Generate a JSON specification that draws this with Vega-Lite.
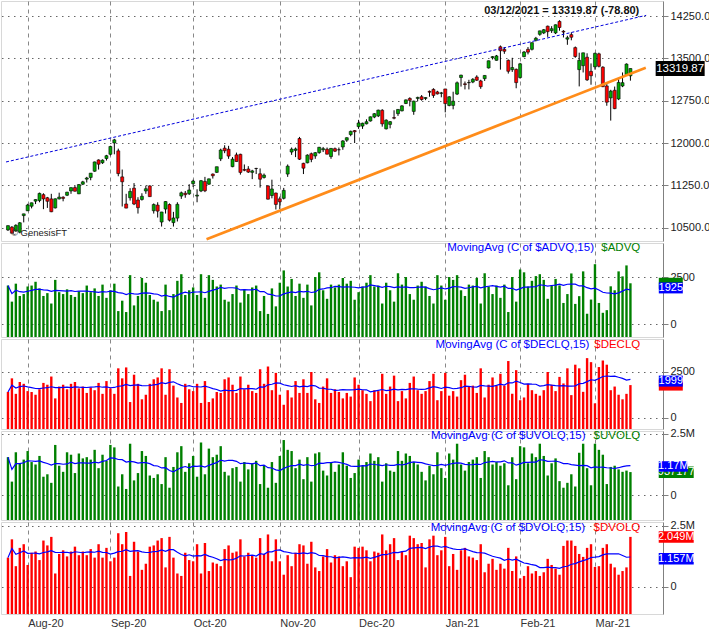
{
"$schema":"https://vega.github.io/schema/vega-lite/v6.json",
"padding":0,
"background":"white",
"spacing":2,
"bounds":"flush",
"config":{"view":{"stroke":"#d8d8d8"},"axis":{"labelFont":"Liberation Sans","labelFontSize":11,"labelColor":"#222222","domainColor":"#808080","tickColor":"#808080"}},
"datasets":{"d":[
{"i":0,"date":"2020-07-27","o":10460,"h":10540,"l":10442,"c":10536,"adv":2050,"dec":1400,"uvol":1.55,"dvol":1.20},
{"i":1,"date":"2020-07-28","o":10510,"h":10528,"l":10400,"c":10402,"adv":1200,"dec":2150,"uvol":0.55,"dvol":1.95},
{"i":2,"date":"2020-07-29","o":10440,"h":10560,"l":10430,"c":10542,"adv":2150,"dec":1300,"uvol":1.75,"dvol":0.85},
{"i":3,"date":"2020-07-30","o":10420,"h":10600,"l":10400,"c":10587,"adv":1500,"dec":1950,"uvol":1.30,"dvol":1.60},
{"i":4,"date":"2020-07-31","o":10714,"h":10747,"l":10594,"c":10745,"adv":1600,"dec":1850,"uvol":1.45,"dvol":1.75},
{"i":5,"date":"2020-08-03","o":10799,"h":10923,"l":10797,"c":10902,"adv":2000,"dec":1450,"uvol":1.80,"dvol":0.90},
{"i":6,"date":"2020-08-04","o":10880,"h":10944,"l":10842,"c":10941,"adv":2050,"dec":1400,"uvol":1.35,"dvol":1.40},
{"i":7,"date":"2020-08-05","o":10970,"h":11002,"l":10918,"c":10998,"adv":2250,"dec":1250,"uvol":1.25,"dvol":1.45},
{"i":8,"date":"2020-08-06","o":10980,"h":11121,"l":10950,"c":11108,"adv":1900,"dec":1550,"uvol":1.60,"dvol":1.10},
{"i":9,"date":"2020-08-07","o":11085,"h":11110,"l":10828,"c":11010,"adv":1500,"dec":1900,"uvol":0.75,"dvol":1.90},
{"i":10,"date":"2020-08-10","o":11030,"h":11045,"l":10850,"c":10968,"adv":1650,"dec":1800,"uvol":0.85,"dvol":1.70},
{"i":11,"date":"2020-08-11","o":11010,"h":11100,"l":10775,"c":10782,"adv":1100,"dec":2250,"uvol":0.50,"dvol":2.05},
{"i":12,"date":"2020-08-12","o":10850,"h":11018,"l":10840,"c":11012,"adv":2350,"dec":1050,"uvol":2.05,"dvol":0.55},
{"i":13,"date":"2020-08-13","o":11010,"h":11120,"l":11000,"c":11042,"adv":1700,"dec":1700,"uvol":1.20,"dvol":1.35},
{"i":14,"date":"2020-08-14","o":11040,"h":11056,"l":10967,"c":11019,"adv":1600,"dec":1800,"uvol":0.95,"dvol":1.50},
{"i":15,"date":"2020-08-17","o":11075,"h":11135,"l":11060,"c":11129,"adv":1850,"dec":1550,"uvol":1.75,"dvol":1.25},
{"i":16,"date":"2020-08-18","o":11150,"h":11212,"l":11100,"c":11210,"adv":1550,"dec":1850,"uvol":1.65,"dvol":1.45},
{"i":17,"date":"2020-08-19","o":11210,"h":11240,"l":11140,"c":11146,"adv":1450,"dec":1950,"uvol":0.90,"dvol":1.65},
{"i":18,"date":"2020-08-20","o":11100,"h":11270,"l":11095,"c":11264,"adv":1750,"dec":1600,"uvol":1.70,"dvol":1.30},
{"i":19,"date":"2020-08-21","o":11270,"h":11330,"l":11255,"c":11312,"adv":1650,"dec":1700,"uvol":1.50,"dvol":1.45},
{"i":20,"date":"2020-08-24","o":11360,"h":11400,"l":11300,"c":11380,"adv":2050,"dec":1350,"uvol":1.55,"dvol":1.30},
{"i":21,"date":"2020-08-25","o":11390,"h":11466,"l":11340,"c":11466,"adv":1700,"dec":1650,"uvol":1.45,"dvol":1.55},
{"i":22,"date":"2020-08-26","o":11500,"h":11670,"l":11490,"c":11665,"adv":1900,"dec":1500,"uvol":1.85,"dvol":1.20},
{"i":23,"date":"2020-08-27","o":11700,"h":11710,"l":11530,"c":11625,"adv":1500,"dec":1900,"uvol":1.10,"dvol":1.75},
{"i":24,"date":"2020-08-28","o":11650,"h":11710,"l":11630,"c":11696,"adv":2100,"dec":1300,"uvol":1.65,"dvol":1.20},
{"i":25,"date":"2020-08-31","o":11725,"h":11790,"l":11690,"c":11775,"adv":1400,"dec":2000,"uvol":1.40,"dvol":1.60},
{"i":26,"date":"2020-09-01","o":11800,"h":11945,"l":11780,"c":11939,"adv":1800,"dec":1600,"uvol":2.05,"dvol":1.05},
{"i":27,"date":"2020-09-02","o":12000,"h":12074,"l":11800,"c":12056,"adv":2150,"dec":1300,"uvol":1.95,"dvol":1.20},
{"i":28,"date":"2020-09-03","o":11861,"h":11900,"l":11411,"c":11458,"adv":700,"dec":2700,"uvol":0.35,"dvol":2.20},
{"i":29,"date":"2020-09-04","o":11400,"h":11530,"l":10875,"c":11313,"adv":1250,"dec":2150,"uvol":0.85,"dvol":1.75},
{"i":30,"date":"2020-09-08","o":10920,"h":11100,"l":10845,"c":10847,"adv":650,"dec":2750,"uvol":0.25,"dvol":2.25},
{"i":31,"date":"2020-09-09","o":11030,"h":11200,"l":10980,"c":11142,"adv":2600,"dec":850,"uvol":2.10,"dvol":0.45},
{"i":32,"date":"2020-09-10","o":11200,"h":11290,"l":10900,"c":10919,"adv":1000,"dec":2350,"uvol":0.60,"dvol":1.85},
{"i":33,"date":"2020-09-11","o":10990,"h":11040,"l":10750,"c":10854,"adv":1500,"dec":1850,"uvol":0.90,"dvol":1.45},
{"i":34,"date":"2020-09-14","o":11000,"h":11110,"l":10980,"c":11056,"adv":2450,"dec":1000,"uvol":1.80,"dvol":0.70},
{"i":35,"date":"2020-09-15","o":11150,"h":11245,"l":11100,"c":11190,"adv":2200,"dec":1250,"uvol":1.60,"dvol":0.95},
{"i":36,"date":"2020-09-16","o":11240,"h":11250,"l":11050,"c":11050,"adv":1550,"dec":1850,"uvol":0.80,"dvol":1.65},
{"i":37,"date":"2020-09-17","o":10800,"h":10930,"l":10750,"c":10910,"adv":1300,"dec":2100,"uvol":0.70,"dvol":1.70},
{"i":38,"date":"2020-09-18","o":10900,"h":10950,"l":10680,"c":10793,"adv":1200,"dec":2200,"uvol":0.85,"dvol":1.90},
{"i":39,"date":"2020-09-21","o":10600,"h":10780,"l":10520,"c":10778,"adv":700,"dec":2700,"uvol":0.45,"dvol":2.00},
{"i":40,"date":"2020-09-22","o":10830,"h":10970,"l":10750,"c":10963,"adv":2100,"dec":1250,"uvol":1.55,"dvol":0.80},
{"i":41,"date":"2020-09-23","o":10910,"h":10930,"l":10610,"c":10633,"adv":750,"dec":2650,"uvol":0.30,"dvol":2.05},
{"i":42,"date":"2020-09-24","o":10590,"h":10780,"l":10520,"c":10672,"adv":1600,"dec":1750,"uvol":1.15,"dvol":1.20},
{"i":43,"date":"2020-09-25","o":10670,"h":10950,"l":10610,"c":10914,"adv":2300,"dec":1100,"uvol":1.75,"dvol":0.55},
{"i":44,"date":"2020-09-28","o":11060,"h":11140,"l":11010,"c":11118,"adv":2650,"dec":800,"uvol":2.00,"dvol":0.45},
{"i":45,"date":"2020-09-29","o":11110,"h":11150,"l":11030,"c":11085,"adv":1550,"dec":1850,"uvol":0.95,"dvol":1.40},
{"i":46,"date":"2020-09-30","o":11100,"h":11270,"l":11080,"c":11168,"adv":1800,"dec":1550,"uvol":1.30,"dvol":1.10},
{"i":47,"date":"2020-10-01","o":11280,"h":11350,"l":11220,"c":11326,"adv":1950,"dec":1450,"uvol":1.60,"dvol":1.05},
{"i":48,"date":"2020-10-02","o":11060,"h":11180,"l":10950,"c":11076,"adv":1550,"dec":1850,"uvol":0.75,"dvol":1.75},
{"i":49,"date":"2020-10-05","o":11150,"h":11345,"l":11130,"c":11332,"adv":2650,"dec":800,"uvol":2.15,"dvol":0.55},
{"i":50,"date":"2020-10-06","o":11320,"h":11400,"l":11130,"c":11154,"adv":1400,"dec":2000,"uvol":0.85,"dvol":1.80},
{"i":51,"date":"2020-10-07","o":11270,"h":11370,"l":11260,"c":11365,"adv":2600,"dec":850,"uvol":1.90,"dvol":0.65},
{"i":52,"date":"2020-10-08","o":11450,"h":11460,"l":11370,"c":11420,"adv":2350,"dec":1050,"uvol":1.55,"dvol":1.00},
{"i":53,"date":"2020-10-09","o":11480,"h":11580,"l":11470,"c":11580,"adv":2000,"dec":1400,"uvol":1.65,"dvol":0.95},
{"i":54,"date":"2020-10-12","o":11720,"h":11900,"l":11680,"c":11876,"adv":2100,"dec":1350,"uvol":2.00,"dvol":0.85},
{"i":55,"date":"2020-10-13","o":11909,"h":11960,"l":11820,"c":11863,"adv":1300,"dec":2100,"uvol":0.95,"dvol":1.55},
{"i":56,"date":"2020-10-14","o":11890,"h":11950,"l":11720,"c":11768,"adv":1200,"dec":2200,"uvol":0.80,"dvol":1.70},
{"i":57,"date":"2020-10-15","o":11581,"h":11751,"l":11571,"c":11714,"adv":1600,"dec":1800,"uvol":1.10,"dvol":1.40},
{"i":58,"date":"2020-10-16","o":11790,"h":11830,"l":11670,"c":11672,"adv":2050,"dec":1350,"uvol":1.15,"dvol":1.45},
{"i":59,"date":"2020-10-19","o":11800,"h":11810,"l":11440,"c":11479,"adv":1150,"dec":2250,"uvol":0.55,"dvol":1.95},
{"i":60,"date":"2020-10-20","o":11530,"h":11620,"l":11500,"c":11517,"adv":1850,"dec":1550,"uvol":1.35,"dvol":1.25},
{"i":61,"date":"2020-10-21","o":11540,"h":11590,"l":11470,"c":11485,"adv":1600,"dec":1800,"uvol":1.05,"dvol":1.40},
{"i":62,"date":"2020-10-22","o":11480,"h":11525,"l":11360,"c":11506,"adv":1950,"dec":1450,"uvol":1.30,"dvol":1.30},
{"i":63,"date":"2020-10-23","o":11550,"h":11560,"l":11450,"c":11548,"adv":2050,"dec":1350,"uvol":1.40,"dvol":1.20},
{"i":64,"date":"2020-10-26","o":11455,"h":11550,"l":11210,"c":11359,"adv":700,"dec":2650,"uvol":0.45,"dvol":2.00},
{"i":65,"date":"2020-10-27","o":11390,"h":11460,"l":11370,"c":11431,"adv":1500,"dec":1850,"uvol":1.20,"dvol":1.35},
{"i":66,"date":"2020-10-28","o":11240,"h":11250,"l":11000,"c":11005,"adv":550,"dec":2800,"uvol":0.30,"dvol":2.15},
{"i":67,"date":"2020-10-29","o":11070,"h":11350,"l":11020,"c":11186,"adv":1900,"dec":1500,"uvol":1.35,"dvol":1.05},
{"i":68,"date":"2020-10-30","o":11114,"h":11120,"l":10822,"c":10912,"adv":950,"dec":2450,"uvol":0.50,"dvol":1.95},
{"i":69,"date":"2020-11-02","o":11011,"h":11050,"l":10830,"c":10958,"adv":2200,"dec":1250,"uvol":1.60,"dvol":1.05},
{"i":70,"date":"2020-11-03","o":11020,"h":11205,"l":11000,"c":11161,"adv":2850,"dec":700,"uvol":2.25,"dvol":0.50},
{"i":71,"date":"2020-11-04","o":11450,"h":11620,"l":11400,"c":11590,"adv":2000,"dec":1500,"uvol":1.85,"dvol":1.30},
{"i":72,"date":"2020-11-05","o":11840,"h":11920,"l":11790,"c":11891,"adv":2400,"dec":1100,"uvol":1.80,"dvol":0.85},
{"i":73,"date":"2020-11-06","o":11870,"h":11920,"l":11750,"c":11895,"adv":1500,"dec":2000,"uvol":1.10,"dvol":1.40},
{"i":74,"date":"2020-11-09","o":12080,"h":12108,"l":11700,"c":11713,"adv":2150,"dec":1350,"uvol":1.45,"dvol":1.75},
{"i":75,"date":"2020-11-10","o":11640,"h":11650,"l":11450,"c":11554,"adv":1400,"dec":2100,"uvol":0.65,"dvol":1.70},
{"i":76,"date":"2020-11-11","o":11650,"h":11800,"l":11640,"c":11786,"adv":2100,"dec":1350,"uvol":1.55,"dvol":0.95},
{"i":77,"date":"2020-11-12","o":11810,"h":11830,"l":11660,"c":11710,"adv":1000,"dec":2500,"uvol":0.55,"dvol":1.85},
{"i":78,"date":"2020-11-13","o":11770,"h":11840,"l":11720,"c":11829,"adv":2500,"dec":1000,"uvol":1.70,"dvol":0.80},
{"i":79,"date":"2020-11-16","o":11830,"h":11930,"l":11810,"c":11925,"adv":2750,"dec":800,"uvol":1.75,"dvol":0.65},
{"i":80,"date":"2020-11-17","o":11880,"h":11930,"l":11840,"c":11900,"adv":1800,"dec":1700,"uvol":1.00,"dvol":1.25},
{"i":81,"date":"2020-11-18","o":11890,"h":11920,"l":11800,"c":11802,"adv":1350,"dec":2150,"uvol":0.80,"dvol":1.55},
{"i":82,"date":"2020-11-19","o":11760,"h":11910,"l":11720,"c":11905,"adv":2100,"dec":1350,"uvol":1.35,"dvol":1.00},
{"i":83,"date":"2020-11-20","o":11900,"h":11920,"l":11840,"c":11855,"adv":1950,"dec":1550,"uvol":0.95,"dvol":1.30},
{"i":84,"date":"2020-11-23","o":11880,"h":11920,"l":11780,"c":11881,"adv":2100,"dec":1400,"uvol":1.25,"dvol":1.25},
{"i":85,"date":"2020-11-24","o":11930,"h":12050,"l":11880,"c":12037,"adv":2450,"dec":1050,"uvol":1.75,"dvol":0.85},
{"i":86,"date":"2020-11-25","o":12050,"h":12100,"l":12020,"c":12094,"adv":2150,"dec":1350,"uvol":1.20,"dvol":1.05},
{"i":87,"date":"2020-11-27","o":12150,"h":12220,"l":12120,"c":12206,"adv":2300,"dec":1150,"uvol":0.70,"dvol":0.40},
{"i":88,"date":"2020-11-30","o":12220,"h":12230,"l":12000,"c":12199,"adv":1300,"dec":2200,"uvol":0.90,"dvol":1.65},
{"i":89,"date":"2020-12-01","o":12290,"h":12410,"l":12250,"c":12355,"adv":1700,"dec":1800,"uvol":1.45,"dvol":1.60},
{"i":90,"date":"2020-12-02","o":12300,"h":12360,"l":12250,"c":12350,"adv":2000,"dec":1500,"uvol":1.20,"dvol":1.65},
{"i":91,"date":"2020-12-03","o":12340,"h":12420,"l":12330,"c":12377,"adv":2200,"dec":1300,"uvol":1.35,"dvol":1.50},
{"i":92,"date":"2020-12-04","o":12390,"h":12470,"l":12380,"c":12464,"adv":2600,"dec":900,"uvol":1.70,"dvol":1.05},
{"i":93,"date":"2020-12-07","o":12460,"h":12530,"l":12440,"c":12519,"adv":2000,"dec":1500,"uvol":1.40,"dvol":1.45},
{"i":94,"date":"2020-12-08","o":12480,"h":12590,"l":12460,"c":12583,"adv":2050,"dec":1450,"uvol":1.55,"dvol":1.40},
{"i":95,"date":"2020-12-09","o":12580,"h":12600,"l":12290,"c":12339,"adv":1100,"dec":2400,"uvol":0.55,"dvol":2.15},
{"i":96,"date":"2020-12-10","o":12251,"h":12420,"l":12240,"c":12405,"adv":2200,"dec":1300,"uvol":1.30,"dvol":1.50},
{"i":97,"date":"2020-12-11","o":12330,"h":12390,"l":12260,"c":12378,"adv":1800,"dec":1700,"uvol":1.00,"dvol":1.75},
{"i":98,"date":"2020-12-14","o":12450,"h":12580,"l":12420,"c":12440,"adv":1200,"dec":2300,"uvol":0.95,"dvol":2.00},
{"i":99,"date":"2020-12-15","o":12520,"h":12600,"l":12480,"c":12595,"adv":2700,"dec":900,"uvol":1.80,"dvol":1.10},
{"i":100,"date":"2020-12-16","o":12570,"h":12670,"l":12560,"c":12658,"adv":2100,"dec":1450,"uvol":1.40,"dvol":1.45},
{"i":101,"date":"2020-12-17","o":12700,"h":12770,"l":12690,"c":12764,"adv":2500,"dec":1050,"uvol":1.70,"dvol":1.30},
{"i":102,"date":"2020-12-18","o":12790,"h":12810,"l":12650,"c":12756,"adv":1600,"dec":1900,"uvol":1.60,"dvol":2.10},
{"i":103,"date":"2020-12-21","o":12560,"h":12750,"l":12500,"c":12742,"adv":1300,"dec":2250,"uvol":1.35,"dvol":2.00},
{"i":104,"date":"2020-12-22","o":12790,"h":12820,"l":12740,"c":12808,"adv":2050,"dec":1500,"uvol":1.25,"dvol":1.75},
{"i":105,"date":"2020-12-23","o":12820,"h":12850,"l":12750,"c":12771,"adv":2250,"dec":1300,"uvol":0.95,"dvol":1.80},
{"i":106,"date":"2020-12-24","o":12790,"h":12810,"l":12760,"c":12805,"adv":2000,"dec":1450,"uvol":0.60,"dvol":0.80},
{"i":107,"date":"2020-12-28","o":12915,"h":12930,"l":12820,"c":12900,"adv":1500,"dec":2000,"uvol":1.20,"dvol":1.95},
{"i":108,"date":"2020-12-29","o":12950,"h":12970,"l":12800,"c":12843,"adv":1100,"dec":2400,"uvol":0.85,"dvol":2.10},
{"i":109,"date":"2020-12-30","o":12905,"h":12925,"l":12860,"c":12870,"adv":2600,"dec":950,"uvol":1.75,"dvol":1.30},
{"i":110,"date":"2020-12-31","o":12880,"h":12905,"l":12810,"c":12888,"adv":2050,"dec":1450,"uvol":1.10,"dvol":1.50},
{"i":111,"date":"2021-01-04","o":12958,"h":12958,"l":12543,"c":12698,"adv":1300,"dec":2450,"uvol":0.70,"dvol":2.05},
{"i":112,"date":"2021-01-05","o":12665,"h":12830,"l":12650,"c":12819,"adv":2500,"dec":1200,"uvol":1.70,"dvol":0.85},
{"i":113,"date":"2021-01-06","o":12666,"h":12909,"l":12597,"c":12741,"adv":2350,"dec":1450,"uvol":1.45,"dvol":1.35},
{"i":114,"date":"2021-01-07","o":12867,"h":13090,"l":12850,"c":13067,"adv":2600,"dec":1150,"uvol":2.10,"dvol":0.70},
{"i":115,"date":"2021-01-08","o":13160,"h":13210,"l":13000,"c":13202,"adv":1800,"dec":2050,"uvol":1.25,"dvol":1.50},
{"i":116,"date":"2021-01-11","o":13049,"h":13090,"l":12950,"c":13036,"adv":1500,"dec":2350,"uvol":1.00,"dvol":1.60},
{"i":117,"date":"2021-01-12","o":13068,"h":13120,"l":12950,"c":13072,"adv":2100,"dec":1700,"uvol":1.35,"dvol":1.25},
{"i":118,"date":"2021-01-13","o":13080,"h":13150,"l":13060,"c":13129,"adv":2050,"dec":1750,"uvol":1.45,"dvol":1.20},
{"i":119,"date":"2021-01-14","o":13170,"h":13200,"l":13100,"c":13112,"adv":2450,"dec":1350,"uvol":1.55,"dvol":1.10},
{"i":120,"date":"2021-01-15","o":13100,"h":13120,"l":12960,"c":12998,"adv":1100,"dec":2700,"uvol":0.70,"dvol":1.75},
{"i":121,"date":"2021-01-19","o":13140,"h":13200,"l":13100,"c":13197,"adv":2700,"dec":1100,"uvol":1.80,"dvol":0.60},
{"i":122,"date":"2021-01-20","o":13330,"h":13460,"l":13320,"c":13457,"adv":2000,"dec":1800,"uvol":1.55,"dvol":0.95},
{"i":123,"date":"2021-01-21","o":13510,"h":13540,"l":13480,"c":13530,"adv":1600,"dec":2200,"uvol":1.25,"dvol":1.15},
{"i":124,"date":"2021-01-22","o":13465,"h":13560,"l":13460,"c":13543,"adv":2050,"dec":1750,"uvol":1.35,"dvol":0.70},
{"i":125,"date":"2021-01-25","o":13705,"h":13728,"l":13300,"c":13635,"adv":1400,"dec":2400,"uvol":1.20,"dvol":0.95},
{"i":126,"date":"2021-01-26","o":13660,"h":13700,"l":13580,"c":13626,"adv":2100,"dec":1750,"uvol":1.30,"dvol":0.75},
{"i":127,"date":"2021-01-27","o":13465,"h":13480,"l":13230,"c":13271,"adv":650,"dec":3100,"uvol":0.40,"dvol":1.60},
{"i":128,"date":"2021-01-28","o":13300,"h":13510,"l":13260,"c":13337,"adv":2500,"dec":1300,"uvol":1.55,"dvol":0.65},
{"i":129,"date":"2021-01-29","o":13305,"h":13320,"l":12970,"c":13070,"adv":1200,"dec":2600,"uvol":0.65,"dvol":1.25},
{"i":130,"date":"2021-02-01","o":13160,"h":13420,"l":13140,"c":13403,"adv":2900,"dec":950,"uvol":2.00,"dvol":0.35},
{"i":131,"date":"2021-02-02","o":13530,"h":13630,"l":13520,"c":13612,"adv":2750,"dec":1100,"uvol":1.95,"dvol":0.45},
{"i":132,"date":"2021-02-03","o":13660,"h":13700,"l":13570,"c":13610,"adv":2000,"dec":1850,"uvol":1.30,"dvol":0.85},
{"i":133,"date":"2021-02-04","o":13660,"h":13780,"l":13640,"c":13778,"adv":2300,"dec":1500,"uvol":1.70,"dvol":0.55},
{"i":134,"date":"2021-02-05","o":13820,"h":13880,"l":13800,"c":13856,"adv":2550,"dec":1300,"uvol":1.55,"dvol":0.65},
{"i":135,"date":"2021-02-08","o":13925,"h":13990,"l":13900,"c":13987,"adv":2650,"dec":1200,"uvol":2.10,"dvol":0.45},
{"i":136,"date":"2021-02-09","o":13950,"h":14020,"l":13930,"c":14007,"adv":2350,"dec":1500,"uvol":1.60,"dvol":0.60},
{"i":137,"date":"2021-02-10","o":14070,"h":14080,"l":13880,"c":13973,"adv":1350,"dec":2500,"uvol":0.80,"dvol":1.15},
{"i":138,"date":"2021-02-11","o":13990,"h":14070,"l":13950,"c":14025,"adv":2050,"dec":1800,"uvol":1.30,"dvol":0.90},
{"i":139,"date":"2021-02-12","o":13950,"h":14100,"l":13930,"c":14095,"adv":2400,"dec":1450,"uvol":1.50,"dvol":0.75},
{"i":140,"date":"2021-02-16","o":14155,"h":14175,"l":13990,"c":14047,"adv":2060,"dec":2230,"uvol":0.57,"dvol":0.50},
{"i":141,"date":"2021-02-17","o":13980,"h":14000,"l":13870,"c":13966,"adv":1130,"dec":1870,"uvol":0.30,"dvol":1.68},
{"i":142,"date":"2021-02-18","o":13840,"h":13900,"l":13740,"c":13865,"adv":1600,"dec":2700,"uvol":0.50,"dvol":1.90},
{"i":143,"date":"2021-02-19","o":13920,"h":13960,"l":13820,"c":13874,"adv":2690,"dec":1230,"uvol":0.85,"dvol":1.90},
{"i":144,"date":"2021-02-22","o":13690,"h":13710,"l":13510,"c":13533,"adv":1080,"dec":2900,"uvol":0.35,"dvol":1.68},
{"i":145,"date":"2021-02-23","o":13300,"h":13600,"l":13003,"c":13465,"adv":1490,"dec":2700,"uvol":1.73,"dvol":1.35},
{"i":146,"date":"2021-02-24","o":13370,"h":13600,"l":13250,"c":13598,"adv":2800,"dec":1410,"uvol":2.10,"dvol":1.23},
{"i":147,"date":"2021-02-25","o":13520,"h":13590,"l":13100,"c":13119,"adv":560,"dec":3260,"uvol":1.10,"dvol":1.60},
{"i":148,"date":"2021-02-26","o":13270,"h":13410,"l":13033,"c":13192,"adv":1310,"dec":3040,"uvol":0.40,"dvol":1.75},
{"i":149,"date":"2021-03-01","o":13350,"h":13600,"l":13300,"c":13589,"adv":3180,"dec":780,"uvol":2.10,"dvol":0.82},
{"i":150,"date":"2021-03-02","o":13580,"h":13600,"l":13340,"c":13359,"adv":1130,"dec":2770,"uvol":1.85,"dvol":0.85},
{"i":151,"date":"2021-03-03","o":13344,"h":13360,"l":12990,"c":12998,"adv":610,"dec":3130,"uvol":1.65,"dvol":1.60},
{"i":152,"date":"2021-03-04","o":13011,"h":13069,"l":12660,"c":12723,"adv":750,"dec":2900,"uvol":0.45,"dvol":1.75},
{"i":153,"date":"2021-03-05","o":12799,"h":12943,"l":12397,"c":12920,"adv":2010,"dec":1500,"uvol":1.15,"dvol":0.95},
{"i":154,"date":"2021-03-08","o":12935,"h":13000,"l":12600,"c":12609,"adv":1800,"dec":1700,"uvol":1.20,"dvol":0.80},
{"i":155,"date":"2021-03-09","o":12780,"h":13130,"l":12760,"c":13073,"adv":2800,"dec":1250,"uvol":1.05,"dvol":0.50},
{"i":156,"date":"2021-03-10","o":13010,"h":13250,"l":12990,"c":13069,"adv":2535,"dec":1000,"uvol":0.95,"dvol":0.65},
{"i":157,"date":"2021-03-11","o":13211,"h":13410,"l":13190,"c":13399,"adv":3115,"dec":1300,"uvol":1.00,"dvol":0.80},
{"i":158,"date":"2021-03-12","o":13190,"h":13320,"l":13105,"c":13320,"adv":2170,"dec":1780,"uvol":0.94,"dvol":2.05}
]},
"data":{"name":"d"},
"vconcat":[
{
"width":662,"height":240,
"layer":[
{"mark":{"type":"rule","color":"black","strokeWidth":1},"encoding":{"x":{"field":"i","type":"quantitative","title":null,"scale":{"domain":[-0.5,165],"nice":false,"zero":false},"axis":{"values":[5,26,47,69,89,111,130,149],"grid":true,"gridDash":[4,4],"gridColor":"#888888","labels":false,"ticks":false,"domain":false}},"y":{"field":"l","type":"quantitative","title":null,"scale":{"domain":[10264,14516],"nice":false,"zero":false},"axis":{"orient":"right","values":[10500,11250,12000,12750,13500,14250],"format":".1f","grid":true,"gridDash":[1.5,4.5],"gridColor":"#666666","tickSize":5,"labelPadding":2}},"y2":{"field":"h"}}},
{"mark":{"type":"bar","size":3,"stroke":"black","strokeWidth":0.6},"encoding":{"x":{"field":"i","type":"quantitative","title":null},"y":{"field":"o","type":"quantitative","title":null},"y2":{"field":"c"},"color":{"condition":{"test":"datum.c >= datum.o","value":"#00a800"},"value":"#ff0000"}}},
{"data":{"values":[{"i":-0.5,"p":11664},{"i":162,"p":14262}]},"mark":{"type":"line","color":"#0000dd","strokeDash":[3,2],"strokeWidth":1},"encoding":{"x":{"field":"i","type":"quantitative","title":null},"y":{"field":"p","type":"quantitative","title":null}}},
{"data":{"values":[{"i":50.4,"p":10294},{"i":161.9,"p":13334}]},"mark":{"type":"line","color":"#ff8c1a","strokeWidth":2.6},"encoding":{"x":{"field":"i","type":"quantitative","title":null},"y":{"field":"p","type":"quantitative","title":null}}},
{"data":{"values":[{"t":"03/12/2021 = 13319.87 (-78.80)"}]},"mark":{"type":"text","align":"right","baseline":"middle","font":"Liberation Sans","fontSize":11,"fontWeight":"bold","color":"#111111"},"encoding":{"x":{"datum":160.25},"y":{"datum":14339},"text":{"field":"t"}}},
{"data":{"values":[{"t":"© GenesisFT"}]},"mark":{"type":"text","align":"left","baseline":"middle","font":"Liberation Sans","fontSize":9.5,"color":"#222222"},"encoding":{"x":{"datum":0.75},"y":{"datum":10406},"text":{"field":"t"}}},
{"data":{"values":[{"v":13319.87,"t":"13319.87"}]},"encoding":{"x":{"datum":170.625},"y":{"field":"v","type":"quantitative","title":null}},"layer":[
{"mark":{"type":"point","shape":"M-1,-0.306L1,-0.306L1,0.306L-1,0.306Z","size":2401,"filled":true,"color":"#000000","opacity":1,"strokeWidth":0}},
{"mark":{"type":"text","align":"center","baseline":"middle","font":"Liberation Sans","fontSize":11.5,"color":"white"},"encoding":{"text":{"field":"t"}}}
]}
]
},
{
"width":662,"height":94,
"layer":[
{"mark":{"type":"bar","size":2.4,"color":"#008000"},"encoding":{"x":{"field":"i","type":"quantitative","title":null,"scale":{"domain":[-0.5,165],"nice":false,"zero":false},"axis":{"values":[5,26,47,69,89,111,130,149],"grid":true,"gridDash":[4,4],"gridColor":"#888888","labels":false,"ticks":false,"domain":false}},"y":{"field":"adv","type":"quantitative","title":null,"scale":{"domain":[-670,4300],"nice":false,"zero":false},"axis":{"orient":"right","values":[0,2500],"format":"d","grid":true,"gridDash":[1.5,4.5],"gridColor":"#666666","tickSize":5,"labelPadding":2}},"y2":{"datum":-670}}},
{"transform":[{"window":[{"op":"mean","field":"adv","as":"ma"}],"frame":[-14,0],"sort":[{"field":"i"}]}],"mark":{"type":"line","color":"#0000ff","strokeWidth":1.2},"encoding":{"x":{"field":"i","type":"quantitative","title":null},"y":{"field":"ma","type":"quantitative","title":null}}},
{"data":{"values":[{"t":"MovingAvg (C of $ADVQ,15)"}]},"mark":{"type":"text","align":"right","baseline":"middle","font":"Liberation Sans","fontSize":11.5,"color":"#0000ff"},"encoding":{"x":{"datum":148.75},"y":{"datum":4048},"text":{"field":"t"}}},
{"data":{"values":[{"t":"$ADVQ"}]},"mark":{"type":"text","align":"right","baseline":"middle","font":"Liberation Sans","fontSize":11.5,"color":"#008000"},"encoding":{"x":{"datum":160.5},"y":{"datum":4048},"text":{"field":"t"}}},
{"data":{"values":[{"v":2170}]},"mark":{"type":"point","shape":"M-1,-0.458L1,-0.458L1,0.458L-1,0.458Z","size":576,"filled":true,"color":"#008000","opacity":1,"strokeWidth":0},"encoding":{"x":{"datum":168.25},"y":{"field":"v","type":"quantitative","title":null}}},
{"data":{"values":[{"v":1925,"t":"1925"}]},"encoding":{"x":{"datum":168.25},"y":{"field":"v","type":"quantitative","title":null}},"layer":[
{"mark":{"type":"point","shape":"M-1,-0.458L1,-0.458L1,0.458L-1,0.458Z","size":576,"filled":true,"color":"#0000ff","opacity":1,"strokeWidth":0}},
{"mark":{"type":"text","align":"center","baseline":"middle","font":"Liberation Sans","fontSize":11,"color":"white"},"encoding":{"text":{"field":"t"}}}
]}
]
},
{
"width":662,"height":90,
"layer":[
{"mark":{"type":"bar","size":2.4,"color":"#ff0000"},"encoding":{"x":{"field":"i","type":"quantitative","title":null,"scale":{"domain":[-0.5,165],"nice":false,"zero":false},"axis":{"values":[5,26,47,69,89,111,130,149],"grid":true,"gridDash":[4,4],"gridColor":"#888888","labels":false,"ticks":false,"domain":false}},"y":{"field":"dec","type":"quantitative","title":null,"scale":{"domain":[-630,4310],"nice":false,"zero":false},"axis":{"orient":"right","values":[0,2500],"format":"d","grid":true,"gridDash":[1.5,4.5],"gridColor":"#666666","tickSize":5,"labelPadding":2}},"y2":{"datum":-630}}},
{"transform":[{"window":[{"op":"mean","field":"dec","as":"ma"}],"frame":[-14,0],"sort":[{"field":"i"}]}],"mark":{"type":"line","color":"#0000ff","strokeWidth":1.2},"encoding":{"x":{"field":"i","type":"quantitative","title":null},"y":{"field":"ma","type":"quantitative","title":null}}},
{"data":{"values":[{"t":"MovingAvg (C of $DECLQ,15)"}]},"mark":{"type":"text","align":"right","baseline":"middle","font":"Liberation Sans","fontSize":11.5,"color":"#0000ff"},"encoding":{"x":{"datum":147.6},"y":{"datum":3964},"text":{"field":"t"}}},
{"data":{"values":[{"t":"$DECLQ"}]},"mark":{"type":"text","align":"right","baseline":"middle","font":"Liberation Sans","fontSize":11.5,"color":"#ff0000"},"encoding":{"x":{"datum":160.5},"y":{"datum":3964},"text":{"field":"t"}}},
{"data":{"values":[{"v":1780}]},"mark":{"type":"point","shape":"M-1,-0.458L1,-0.458L1,0.458L-1,0.458Z","size":576,"filled":true,"color":"#ff0000","opacity":1,"strokeWidth":0},"encoding":{"x":{"datum":168.25},"y":{"field":"v","type":"quantitative","title":null}}},
{"data":{"values":[{"v":1999,"t":"1999"}]},"encoding":{"x":{"datum":168.25},"y":{"field":"v","type":"quantitative","title":null}},"layer":[
{"mark":{"type":"point","shape":"M-1,-0.458L1,-0.458L1,0.458L-1,0.458Z","size":576,"filled":true,"color":"#0000ff","opacity":1,"strokeWidth":0}},
{"mark":{"type":"text","align":"center","baseline":"middle","font":"Liberation Sans","fontSize":11,"color":"white"},"encoding":{"text":{"field":"t"}}}
]}
]
},
{
"width":662,"height":89,
"layer":[
{"mark":{"type":"bar","size":2.4,"color":"#008000"},"encoding":{"x":{"field":"i","type":"quantitative","title":null,"scale":{"domain":[-0.5,165],"nice":false,"zero":false},"axis":{"values":[5,26,47,69,89,111,130,149],"grid":true,"gridDash":[4,4],"gridColor":"#888888","labels":false,"ticks":false,"domain":false}},"y":{"field":"uvol","type":"quantitative","title":null,"scale":{"domain":[-1.02,2.62],"nice":false,"zero":false},"axis":{"orient":"right","values":[0,2.5],"labelExpr":"datum.value == 0 ? '0' : '2.5M'","grid":true,"gridDash":[1.5,4.5],"gridColor":"#666666","tickSize":5,"labelPadding":2}},"y2":{"datum":-1.02}}},
{"transform":[{"window":[{"op":"mean","field":"uvol","as":"ma"}],"frame":[-14,0],"sort":[{"field":"i"}]}],"mark":{"type":"line","color":"#0000ff","strokeWidth":1.2},"encoding":{"x":{"field":"i","type":"quantitative","title":null},"y":{"field":"ma","type":"quantitative","title":null}}},
{"data":{"values":[{"t":"MovingAvg (C of $UVOLQ,15)"}]},"mark":{"type":"text","align":"right","baseline":"middle","font":"Liberation Sans","fontSize":11.5,"color":"#0000ff"},"encoding":{"x":{"datum":146.6},"y":{"datum":2.41},"text":{"field":"t"}}},
{"data":{"values":[{"t":"$UVOLQ"}]},"mark":{"type":"text","align":"right","baseline":"middle","font":"Liberation Sans","fontSize":11.5,"color":"#008000"},"encoding":{"x":{"datum":160.5},"y":{"datum":2.41},"text":{"field":"t"}}},
{"data":{"values":[{"v":0.937,"t":"937177"}]},"encoding":{"x":{"datum":169.625},"y":{"field":"v","type":"quantitative","title":null}},"layer":[
{"mark":{"type":"point","shape":"M-1,-0.329L1,-0.329L1,0.329L-1,0.329Z","size":1225,"filled":true,"color":"#008000","opacity":1,"strokeWidth":0}},
{"mark":{"type":"text","align":"center","baseline":"middle","font":"Liberation Sans","fontSize":11,"color":"white"},"encoding":{"text":{"field":"t"}}}
]},
{"data":{"values":[{"v":1.17,"t":"1.17M"}]},"encoding":{"x":{"datum":168.875},"y":{"field":"v","type":"quantitative","title":null}},"layer":[
{"mark":{"type":"point","shape":"M-1,-0.362L1,-0.362L1,0.362L-1,0.362Z","size":841,"filled":true,"color":"#0000ff","opacity":1,"strokeWidth":0}},
{"mark":{"type":"text","align":"center","baseline":"middle","font":"Liberation Sans","fontSize":11,"color":"white"},"encoding":{"text":{"field":"t"}}}
]}
]
},
{
"width":662,"height":92,
"layer":[
{"mark":{"type":"bar","size":2.4,"color":"#ff0000"},"encoding":{"x":{"field":"i","type":"quantitative","title":null,"scale":{"domain":[-0.5,165],"nice":false,"zero":false},"axis":{"values":[5,26,47,69,89,111,130,149],"grid":true,"gridDash":[4,4],"gridColor":"#888888","labels":true,"labelExpr":"datum.value==5?'Aug-20':datum.value==26?'Sep-20':datum.value==47?'Oct-20':datum.value==69?'Nov-20':datum.value==89?'Dec-20':datum.value==111?'Jan-21':datum.value==130?'Feb-21':'Mar-21'","labelAlign":"left","labelFlush":false,"labelOverlap":false,"labelBound":false,"labelPadding":3,"labelColor":"#333333","ticks":false,"domain":false}},"y":{"field":"dvol","type":"quantitative","title":null,"scale":{"domain":[-1.11,2.66],"nice":false,"zero":false},"axis":{"orient":"right","values":[0,2.5],"labelExpr":"datum.value == 0 ? '0' : '2.5M'","grid":true,"gridDash":[1.5,4.5],"gridColor":"#666666","tickSize":5,"labelPadding":2}},"y2":{"datum":-1.11}}},
{"transform":[{"window":[{"op":"mean","field":"dvol","as":"ma"}],"frame":[-14,0],"sort":[{"field":"i"}]}],"mark":{"type":"line","color":"#0000ff","strokeWidth":1.2},"encoding":{"x":{"field":"i","type":"quantitative","title":null},"y":{"field":"ma","type":"quantitative","title":null}}},
{"data":{"values":[{"t":"MovingAvg (C of $DVOLQ,15)"}]},"mark":{"type":"text","align":"right","baseline":"middle","font":"Liberation Sans","fontSize":11.5,"color":"#0000ff"},"encoding":{"x":{"datum":146.5},"y":{"datum":2.43},"text":{"field":"t"}}},
{"data":{"values":[{"t":"$DVOLQ"}]},"mark":{"type":"text","align":"right","baseline":"middle","font":"Liberation Sans","fontSize":11.5,"color":"#ff0000"},"encoding":{"x":{"datum":160.5},"y":{"datum":2.43},"text":{"field":"t"}}},
{"data":{"values":[{"v":2.049,"t":"2.049M"}]},"encoding":{"x":{"datum":169.625},"y":{"field":"v","type":"quantitative","title":null}},"layer":[
{"mark":{"type":"point","shape":"M-1,-0.329L1,-0.329L1,0.329L-1,0.329Z","size":1225,"filled":true,"color":"#ff0000","opacity":1,"strokeWidth":0}},
{"mark":{"type":"text","align":"center","baseline":"middle","font":"Liberation Sans","fontSize":11,"color":"white"},"encoding":{"text":{"field":"t"}}}
]},
{"data":{"values":[{"v":1.157,"t":"1.157M"}]},"encoding":{"x":{"datum":169.625},"y":{"field":"v","type":"quantitative","title":null}},"layer":[
{"mark":{"type":"point","shape":"M-1,-0.329L1,-0.329L1,0.329L-1,0.329Z","size":1225,"filled":true,"color":"#0000ff","opacity":1,"strokeWidth":0}},
{"mark":{"type":"text","align":"center","baseline":"middle","font":"Liberation Sans","fontSize":11,"color":"white"},"encoding":{"text":{"field":"t"}}}
]}
]
}
]
}
